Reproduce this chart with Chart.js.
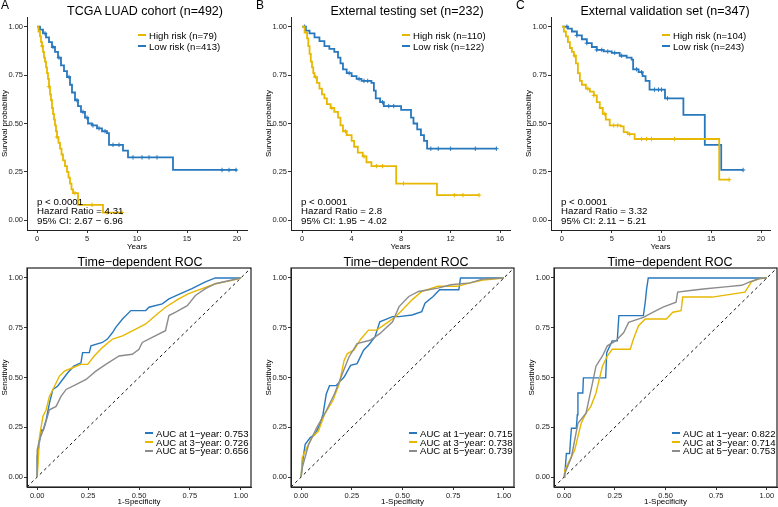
<!DOCTYPE html>
<html>
<head>
<meta charset="utf-8">
<script src="https://cdn.jsdelivr.net/npm/chart.js@4.4.0/dist/chart.umd.min.js"></script>
<style>
  body { margin: 0; background: #fff; }
  #fig { position: relative; width: 778px; height: 507px; overflow: hidden; font-family: "Liberation Sans", Arial, sans-serif; color: #000; }
  canvas { position: absolute; }
  .txt { position: absolute; white-space: nowrap; }
  .key { display: inline-block; width: 8px; height: 1.8px; vertical-align: middle; margin-right: 3px; position: relative; top: -1px; }
</style>
</head>
<body>
<div id="fig"></div>
<script>
// ---------- data ----------
const YELLOW = "#E7B800";
const BLUE = "#2878BE";
const GRAY = "#8C8C8C";
const FONT = "'Liberation Sans', Arial, sans-serif";

const kmTitles = ["TCGA LUAD cohort (n=492)", "External testing set (n=232)", "External validation set (n=347)"];
const kmLegends = [
  ["High risk (n=79)", "Low risk (n=413)"],
  ["High risk (n=110)", "Low risk (n=122)"],
  ["High risk (n=104)", "Low risk (n=243)"]
];
const kmStats = [
  ["p < 0.0001", "Hazard Ratio = 4.31", "95% CI: 2.67 − 6.96"],
  ["p < 0.0001", "Hazard Ratio = 2.8", "95% CI: 1.95 − 4.02"],
  ["p < 0.0001", "Hazard Ratio = 3.32", "95% CI: 2.11 − 5.21"]
];
const kmTicksA = [0, 5, 10, 15, 20];
const kmTicksB = [0, 4, 8, 12, 16];
const kmTicksC = [0, 5, 10, 15, 20];
const survTicks = [0, 0.25, 0.5, 0.75, 1];

// panel A
const aHighTime = [0, 0.15, 0.3, 0.4, 0.5, 0.6, 0.7, 0.8, 0.9, 1.0, 1.1, 1.2, 1.3, 1.4, 1.5, 1.6, 1.7, 1.8, 1.9, 2.0, 2.15, 2.3, 2.45, 2.6, 2.8, 3.0, 3.15, 3.3, 3.45, 3.6, 4.1, 6.6, 8.5];
const aHighSurv = [1, 0.975, 0.95, 0.92, 0.9, 0.87, 0.84, 0.82, 0.79, 0.76, 0.73, 0.69, 0.65, 0.62, 0.58, 0.55, 0.52, 0.49, 0.46, 0.43, 0.40, 0.37, 0.34, 0.31, 0.28, 0.25, 0.22, 0.19, 0.16, 0.14, 0.08, 0.04, 0.04];
const aHighCens = [0.5, 1.2, 2.0, 3.8, 5.5, 7.0, 8.5];
const aLowTime = [0, 0.3, 0.6, 0.9, 1.2, 1.5, 1.8, 2.1, 2.4, 2.7, 3.0, 3.3, 3.5, 3.8, 4.1, 4.4, 4.8, 5.1, 5.5, 6.0, 6.5, 7.0, 7.2, 8.6, 9.1, 13.6, 20];
const aLowSurv = [1, 0.985, 0.965, 0.945, 0.92, 0.895, 0.87, 0.84, 0.8, 0.77, 0.74, 0.70, 0.66, 0.62, 0.59, 0.56, 0.53, 0.5, 0.49, 0.475, 0.46, 0.45, 0.39, 0.36, 0.325, 0.26, 0.26];
const aLowCens = [0.8, 1.6, 2.2, 3.2, 4.0, 4.6, 5.0, 5.6, 6.2, 6.8, 7.6, 8.2, 9.6, 10.5, 11.2, 12.0, 18.5, 19.2, 19.9];

// panel B
const bHighTime = [0, 0.2, 0.4, 0.5, 0.6, 0.7, 0.8, 0.9, 1.0, 1.2, 1.4, 1.6, 1.8, 2.0, 2.3, 2.6, 2.9, 3.1, 3.3, 3.6, 4.0, 4.2, 4.5, 4.9, 5.2, 5.6, 7.6, 10.9, 14.3];
const bHighSurv = [1, 0.97, 0.94, 0.9, 0.86, 0.82, 0.79, 0.76, 0.74, 0.71, 0.68, 0.65, 0.63, 0.6, 0.58, 0.56, 0.53, 0.49, 0.46, 0.44, 0.41, 0.38, 0.35, 0.33, 0.3, 0.28, 0.19, 0.13, 0.13];
const bHighCens = [1.1, 2.4, 3.5, 5.0, 6.0, 6.5, 8.2, 12.3, 13.0, 14.3];
const bLowTime = [0, 0.3, 0.6, 1.0, 1.4, 1.8, 2.2, 2.6, 2.9, 3.1, 3.3, 3.6, 4.0, 4.4, 4.8, 5.6, 5.8, 5.95, 6.3, 6.6, 8.0, 8.8, 9.0, 9.3, 9.6, 9.85, 10.1, 15.7];
const bLowSurv = [1, 0.98, 0.965, 0.945, 0.925, 0.9, 0.885, 0.87, 0.84, 0.81, 0.78, 0.76, 0.745, 0.73, 0.72, 0.71, 0.67, 0.63, 0.61, 0.59, 0.57, 0.53, 0.5, 0.47, 0.44, 0.41, 0.37, 0.37];
const bLowCens = [0.2, 3.8, 4.6, 5.0, 5.3, 6.5, 7.0, 7.4, 10.4, 11.0, 12.0, 14.0, 15.7];

// panel C
const cHighTime = [0, 0.2, 0.4, 0.6, 0.8, 1.0, 1.2, 1.4, 1.6, 1.8, 2.0, 2.4, 2.8, 3.2, 3.5, 3.8, 4.1, 4.4, 4.8, 5.9, 6.2, 6.6, 7.3, 15.8, 16.8];
const cHighSurv = [1, 0.975, 0.95, 0.92, 0.89, 0.87, 0.85, 0.81, 0.76, 0.72, 0.70, 0.68, 0.665, 0.645, 0.61, 0.58, 0.55, 0.52, 0.49, 0.485, 0.455, 0.445, 0.42, 0.21, 0.21];
const cHighCens = [1.3, 2.6, 3.2, 4.3, 5.2, 5.6, 6.8, 8.0, 8.5, 9.0, 11.3, 16.8];
const cLowTime = [0, 0.6, 1.0, 1.5, 2.0, 2.5, 3.0, 3.5, 4.2, 5.0, 5.8, 6.5, 7.0, 7.15, 7.7, 8.1, 8.4, 8.8, 10.35, 12.2, 14.35, 16.0, 18.2];
const cLowSurv = [1, 0.99, 0.975, 0.955, 0.935, 0.915, 0.895, 0.88, 0.872, 0.865, 0.85, 0.84, 0.83, 0.78, 0.765, 0.745, 0.72, 0.675, 0.63, 0.545, 0.39, 0.26, 0.26];
const cLowCens = [0.5, 1.5, 2.5, 3.5, 4.0, 4.6, 5.3, 6.0, 7.5, 8.0, 9.3, 9.7, 10.0, 10.6, 18.2];

// ROC curves (1-specificity, sensitivity)
const rocTicks = [0, 0.25, 0.5, 0.75, 1];
const rocLegends = [
  ["AUC at 1−year: 0.753", "AUC at 3−year: 0.726", "AUC at 5−year: 0.656"],
  ["AUC at 1−year: 0.715", "AUC at 3−year: 0.738", "AUC at 5−year: 0.739"],
  ["AUC at 1−year: 0.822", "AUC at 3−year: 0.714", "AUC at 5−year: 0.753"]
];
const diagonal = [-0.05, 1.05];

const rocA1x = [0, 0, 0.02, 0.03, 0.044, 0.06, 0.077, 0.1, 0.125, 0.15, 0.18, 0.215, 0.223, 0.256, 0.264, 0.32, 0.345, 0.37, 0.386, 0.419, 0.46, 0.533, 0.549, 0.614, 0.647, 0.704, 0.76, 0.826, 0.875, 0.97, 1];
const rocA1y = [0, 0.1, 0.236, 0.236, 0.287, 0.37, 0.44, 0.456, 0.49, 0.524, 0.557, 0.574, 0.625, 0.625, 0.659, 0.676, 0.693, 0.726, 0.752, 0.794, 0.836, 0.836, 0.853, 0.87, 0.895, 0.921, 0.946, 0.98, 1, 1, 1];
const rocA3x = [0, 0.005, 0.011, 0.028, 0.044, 0.06, 0.085, 0.109, 0.134, 0.174, 0.215, 0.248, 0.28, 0.32, 0.37, 0.419, 0.484, 0.533, 0.581, 0.63, 0.695, 0.744, 0.81, 0.875, 0.956, 1];
const rocA3y = [0, 0.08, 0.2, 0.304, 0.338, 0.405, 0.456, 0.507, 0.532, 0.549, 0.566, 0.566, 0.608, 0.65, 0.693, 0.709, 0.743, 0.769, 0.811, 0.853, 0.895, 0.921, 0.946, 0.971, 0.988, 1];
const rocA5x = [0, 0, 0.011, 0.036, 0.06, 0.093, 0.117, 0.142, 0.19, 0.24, 0.288, 0.337, 0.402, 0.467, 0.5, 0.516, 0.565, 0.63, 0.647, 0.68, 0.737, 0.777, 0.826, 0.875, 0.956, 1];
const rocA5y = [0, 0.135, 0.186, 0.253, 0.338, 0.355, 0.405, 0.44, 0.464, 0.49, 0.532, 0.566, 0.608, 0.617, 0.642, 0.676, 0.701, 0.735, 0.811, 0.828, 0.861, 0.912, 0.946, 0.971, 0.99, 1];

const rocB1x = [0, 0.005, 0.02, 0.045, 0.069, 0.093, 0.108, 0.124, 0.14, 0.172, 0.212, 0.244, 0.276, 0.308, 0.332, 0.364, 0.388, 0.451, 0.483, 0.547, 0.595, 0.611, 0.651, 0.683, 0.778, 0.786, 1];
const rocB1y = [0, 0.0625, 0.164, 0.198, 0.215, 0.265, 0.316, 0.417, 0.459, 0.459, 0.502, 0.561, 0.57, 0.637, 0.662, 0.704, 0.78, 0.806, 0.806, 0.814, 0.831, 0.873, 0.907, 0.941, 0.941, 1, 1];
const rocB3x = [0, 0.005, 0.02, 0.053, 0.085, 0.116, 0.156, 0.188, 0.212, 0.228, 0.26, 0.292, 0.332, 0.372, 0.42, 0.467, 0.5, 0.547, 0.595, 0.675, 0.77, 0.834, 0.898, 1];
const rocB3y = [0, 0.096, 0.13, 0.198, 0.231, 0.316, 0.383, 0.468, 0.586, 0.62, 0.637, 0.69, 0.738, 0.738, 0.772, 0.806, 0.84, 0.89, 0.932, 0.958, 0.958, 0.975, 0.99, 1];
const rocB5x = [0, 0.005, 0.037, 0.077, 0.124, 0.164, 0.196, 0.236, 0.276, 0.34, 0.388, 0.451, 0.483, 0.531, 0.579, 0.675, 0.738, 0.834, 0.898, 1];
const rocB5y = [0, 0.045, 0.164, 0.248, 0.333, 0.417, 0.5, 0.603, 0.67, 0.687, 0.72, 0.78, 0.856, 0.907, 0.932, 0.949, 0.966, 0.975, 0.995, 1];

const rocC1x = [0, 0.006, 0.011, 0.027, 0.032, 0.036, 0.06, 0.065, 0.068, 0.092, 0.095, 0.205, 0.21, 0.237, 0.262, 0.27, 0.391, 0.4, 0.407, 0.415, 1];
const rocC1y = [0, 0.05, 0.118, 0.118, 0.194, 0.245, 0.245, 0.313, 0.422, 0.422, 0.498, 0.498, 0.625, 0.684, 0.684, 0.811, 0.811, 0.878, 0.946, 1, 1];
const rocC3x = [0, 0.003, 0.027, 0.052, 0.068, 0.084, 0.108, 0.132, 0.157, 0.173, 0.189, 0.213, 0.237, 0.326, 0.342, 0.367, 0.4, 0.504, 0.536, 0.577, 0.585, 0.73, 0.892, 0.924, 0.964, 1];
const rocC3y = [0, 0.034, 0.084, 0.135, 0.203, 0.27, 0.321, 0.355, 0.422, 0.49, 0.557, 0.608, 0.642, 0.642, 0.693, 0.76, 0.794, 0.794, 0.828, 0.836, 0.904, 0.904, 0.929, 0.98, 0.997, 1];
const rocC5x = [0, 0.003, 0.036, 0.068, 0.108, 0.14, 0.157, 0.189, 0.213, 0.254, 0.294, 0.318, 0.391, 0.439, 0.488, 0.552, 0.56, 0.633, 0.698, 0.795, 0.876, 0.916, 0.964, 1];
const rocC5y = [0, 0.017, 0.101, 0.27, 0.321, 0.473, 0.557, 0.608, 0.659, 0.684, 0.726, 0.777, 0.802, 0.828, 0.853, 0.878, 0.929, 0.938, 0.946, 0.955, 0.963, 0.98, 0.997, 1];

// ---------- helpers ----------
const fig = document.getElementById("fig");

function addCanvas(box) {
  const cv = document.createElement("canvas");
  cv.width = box.w;
  cv.height = box.h;
  cv.style.left = box.left + "px";
  cv.style.top = box.top + "px";
  fig.appendChild(cv);
  return cv;
}

function addText(html, left, top, size, extra) {
  const d = document.createElement("div");
  d.className = "txt";
  d.style.left = left + "px";
  d.style.top = top + "px";
  d.style.fontSize = size + "px";
  if (extra) Object.assign(d.style, extra);
  d.innerHTML = html;
  fig.appendChild(d);
  return d;
}

function centerText(text, cx, cy, size) {
  addText(text, cx - 150, cy - size * 0.6, size, { width: "300px", textAlign: "center", lineHeight: (size * 1.2) + "px" });
}

function legendBlock(labels, colors, left, top, size, lh) {
  const html = labels.map((l, i) =>
    '<div><span class="key" style="background:' + colors[i] + '"></span>' + l + '</div>').join("");
  addText(html, left, top, size, { lineHeight: lh + "px" });
}

function survAt(time, surv, t) {
  let s = surv[0];
  for (let i = 0; i < time.length; i++) {
    if (time[i] <= t) s = surv[i];
  }
  return s;
}

function pts(xs, ys) {
  return xs.map((x, i) => ({ x: x, y: ys[i] }));
}

function scaleOpts(min, max, ticks, title, size, fmt) {
  return {
    type: "linear",
    min: min,
    max: max,
    afterFit: s => { if (s.isHorizontal()) s.height = size; else s.width = size; },
    afterBuildTicks: s => { s.ticks = ticks.map(v => ({ value: v })); },
    grid: { drawOnChartArea: false, drawTicks: true, tickLength: 3, tickColor: "#333", tickWidth: 1 },
    border: { display: true, color: "#222", width: 1 },
    ticks: { font: { size: 7.5, family: FONT }, color: "#222", padding: 1, maxRotation: 0, autoSkip: false, callback: fmt },
    title: { display: true, text: title, font: { size: 8, family: FONT }, color: "#000", padding: 0 }
  };
}

const boxPlugin = {
  id: "panelBox",
  afterDraw(chart) {
    const a = chart.chartArea;
    const ctx = chart.ctx;
    ctx.save();
    ctx.strokeStyle = "#222";
    ctx.lineWidth = 1.2;
    ctx.strokeRect(a.left, a.top, a.right - a.left, a.bottom - a.top);
    ctx.restore();
  }
};

function kmChart(box, xMin, xMax, xTicks, groups) {
  const cv = addCanvas(box);
  const datasets = [];
  groups.forEach(g => {
    datasets.push({
      data: pts(g.time, g.surv), borderColor: g.color, borderWidth: 1.8,
      pointRadius: 0, stepped: "before", fill: false
    });
    datasets.push({
      data: g.cens.map(c => ({ x: c, y: survAt(g.time, g.surv, c) })),
      showLine: false, pointStyle: "cross", pointRadius: 2.2, borderWidth: 1,
      borderColor: g.color, backgroundColor: g.color
    });
  });
  new Chart(cv, {
    type: "line",
    data: { datasets: datasets },
    options: {
      responsive: false,
      animation: false,
      layout: { autoPadding: false, padding: { top: box.pt, right: box.pr, left: 0, bottom: 0 } },
      plugins: { legend: { display: false }, tooltip: { enabled: false } },
      scales: {
        x: scaleOpts(xMin, xMax, xTicks, "Years", box.xh, v => String(v)),
        y: scaleOpts(-0.05, 1.05, survTicks, "Survival probability", box.yw, v => v.toFixed(2))
      }
    }
  });
}

function rocChart(box, curves) {
  const cv = addCanvas(box);
  const datasets = curves.map(c => ({
    data: pts(c.x, c.y), borderColor: c.color, borderWidth: 1.4,
    pointRadius: 0, fill: false, tension: 0
  }));
  datasets.push({
    data: pts(diagonal, diagonal), borderColor: "#111", borderWidth: 1,
    borderDash: [3, 3], pointRadius: 0, fill: false
  });
  new Chart(cv, {
    type: "line",
    data: { datasets: datasets },
    options: {
      responsive: false,
      animation: false,
      layout: { autoPadding: false, padding: { top: box.pt, right: box.pr, left: 0, bottom: 0 } },
      plugins: { legend: { display: false }, tooltip: { enabled: false } },
      scales: {
        x: scaleOpts(-0.05, 1.05, rocTicks, "1-Specificity", box.xh, v => v.toFixed(2)),
        y: scaleOpts(-0.05, 1.05, rocTicks, "Sensitivity", box.yw, v => v.toFixed(2))
      }
    },
    plugins: [boxPlugin]
  });
}

// ---------- survival panels ----------
kmChart({ left: 0, top: 0, w: 255, h: 252, yw: 27, xh: 22, pt: 17, pr: 8 }, -1, 21, kmTicksA, [
  { time: aHighTime, surv: aHighSurv, cens: aHighCens, color: YELLOW },
  { time: aLowTime, surv: aLowSurv, cens: aLowCens, color: BLUE }
]);
kmChart({ left: 264, top: 0, w: 254, h: 252, yw: 27, xh: 22, pt: 17, pr: 8 }, -0.9, 16.8, kmTicksB, [
  { time: bHighTime, surv: bHighSurv, cens: bHighCens, color: YELLOW },
  { time: bLowTime, surv: bLowSurv, cens: bLowCens, color: BLUE }
]);
kmChart({ left: 524, top: 0, w: 254, h: 252, yw: 27, xh: 22, pt: 17, pr: 8 }, -1.1, 20.9, kmTicksC, [
  { time: cHighTime, surv: cHighSurv, cens: cHighCens, color: YELLOW },
  { time: cLowTime, surv: cLowSurv, cens: cLowCens, color: BLUE }
]);

// ---------- ROC panels ----------
rocChart({ left: 0, top: 250, w: 258, h: 257, yw: 27, xh: 20, pt: 18, pr: 7 }, [
  { x: rocA5x, y: rocA5y, color: GRAY },
  { x: rocA3x, y: rocA3y, color: YELLOW },
  { x: rocA1x, y: rocA1y, color: BLUE }
]);
rocChart({ left: 264, top: 250, w: 256, h: 257, yw: 27, xh: 20, pt: 18, pr: 6 }, [
  { x: rocB5x, y: rocB5y, color: GRAY },
  { x: rocB3x, y: rocB3y, color: YELLOW },
  { x: rocB1x, y: rocB1y, color: BLUE }
]);
rocChart({ left: 527, top: 250, w: 251, h: 257, yw: 27, xh: 20, pt: 18, pr: 1 }, [
  { x: rocC5x, y: rocC5y, color: GRAY },
  { x: rocC3x, y: rocC3y, color: YELLOW },
  { x: rocC1x, y: rocC1y, color: BLUE }
]);

// ---------- text ----------
addText("A", 1, -2, 12);
addText("B", 256, -2, 12);
addText("C", 516, -2, 12);

centerText(kmTitles[0], 145, 11, 12.5);
centerText(kmTitles[1], 407, 11, 12.5);
centerText(kmTitles[2], 665, 11, 12.5);

legendBlock(kmLegends[0], [YELLOW, BLUE], 138, 29.5, 9.6, 11);
legendBlock(kmLegends[1], [YELLOW, BLUE], 402, 29.5, 9.6, 11);
legendBlock(kmLegends[2], [YELLOW, BLUE], 662, 29.5, 9.6, 11);

addText(kmStats[0].join("<br>"), 37, 197.2, 9.7, { lineHeight: "9.2px" });
addText(kmStats[1].join("<br>"), 301, 197.2, 9.7, { lineHeight: "9.2px" });
addText(kmStats[2].join("<br>"), 561, 197.2, 9.7, { lineHeight: "9.2px" });

centerText("Time−dependent ROC", 140, 262, 12.5);
centerText("Time−dependent ROC", 406, 262, 12.5);
centerText("Time−dependent ROC", 670, 262, 12.5);

legendBlock(rocLegends[0], [BLUE, YELLOW, GRAY], 145, 429.9, 9.6, 8.8);
legendBlock(rocLegends[1], [BLUE, YELLOW, GRAY], 409, 429.9, 9.6, 8.8);
legendBlock(rocLegends[2], [BLUE, YELLOW, GRAY], 672, 429.9, 9.6, 8.8);
</script>
</body>
</html>
